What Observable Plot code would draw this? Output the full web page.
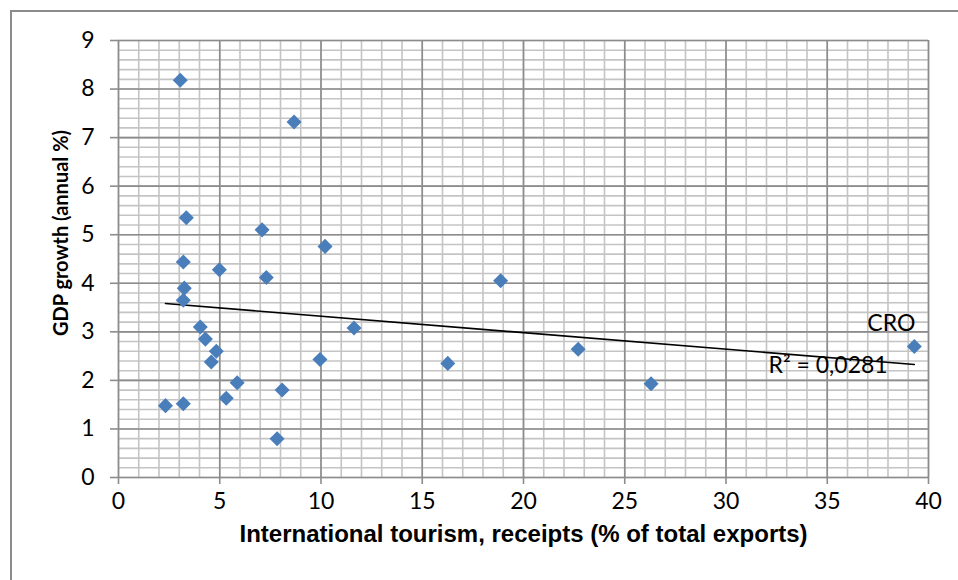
<!DOCTYPE html>
<html>
<head>
<meta charset="utf-8">
<script src="https://cdn.jsdelivr.net/npm/d3@7"></script>
<script src="https://cdn.jsdelivr.net/npm/@observablehq/plot@0.6"></script>
<style>
  html, body { margin: 0; padding: 0; background: #fff; }
  #wrap { position: relative; width: 958px; height: 580px; overflow: hidden; }
  #border { position: absolute; left: 10px; top: 10px; width: 980px; height: 600px;
            border-left: 2px solid #8c8c8c; border-top: 2px solid #8c8c8c; pointer-events: none; }
</style>
</head>
<body>
<div id="wrap"><div id="chart"></div><div id="border"></div></div>
<script>
// Data
const tourismReceipts = [3.05, 8.67, 3.35, 7.09, 10.2, 3.2, 4.98, 7.3, 18.87, 3.25, 3.2, 4.04, 11.63, 4.29, 4.83, 22.7, 39.3, 4.58, 9.95, 16.26, 5.86, 26.3, 8.08, 5.32, 2.32, 3.2, 7.83];
const gdpGrowth      = [8.18, 7.32, 5.35, 5.1, 4.76, 4.44, 4.28, 4.12, 4.05, 3.9, 3.65, 3.1, 3.08, 2.85, 2.6, 2.64, 2.7, 2.38, 2.43, 2.35, 1.95, 1.93, 1.8, 1.63, 1.48, 1.52, 0.8];
const pointLabels    = ["", "", "", "", "", "", "", "", "", "", "", "", "", "", "", "", "CRO", "", "", "", "", "", "", "", "", "", ""];
const xTicks = [0, 5, 10, 15, 20, 25, 30, 35, 40];
const yTicks = [0, 1, 2, 3, 4, 5, 6, 7, 8, 9];
const xTitle = "International tourism, receipts (% of total exports)";
const yTitle = "GDP growth (annual %)";
const r2Label = ["R² = 0,0281"];
const r2Pos = [{x: 32.1, y: 2.31}];

const data = tourismReceipts.map((x, i) => ({x, y: gdpGrowth[i], label: pointLabels[i]}));
const labelled = data.filter(d => d.label);
const xMinor = d3.range(0, 41, 1);
const yMinor = d3.range(0, 46, 1).map(i => +(i * 0.2).toFixed(1));

const excelDiamond = {
  draw(ctx, size) {
    const h = Math.sqrt(size / 2);
    ctx.moveTo(0, -h); ctx.lineTo(h, 0); ctx.lineTo(0, h); ctx.lineTo(-h, 0); ctx.closePath();
  }
};

const plot = Plot.plot({
  width: 958, height: 580,
  marginLeft: 118, marginRight: 30, marginTop: 40, marginBottom: 103,
  style: {fontFamily: "Lato, sans-serif", fontSize: "23px", background: "#fff", color: "#000", overflow: "visible"},
  x: {domain: [0, 40]},
  y: {domain: [0, 9]},
  marks: [
    Plot.gridX(xMinor, {stroke: "#c4c4c4", strokeOpacity: 1, strokeWidth: 1.6}),
    Plot.gridY(yMinor, {stroke: "#c4c4c4", strokeOpacity: 1, strokeWidth: 1.6}),
    Plot.gridX(xTicks, {stroke: "#8c8c8c", strokeOpacity: 1, strokeWidth: 1.6}),
    Plot.gridY(yTicks, {stroke: "#8c8c8c", strokeOpacity: 1, strokeWidth: 1.6}),
    Plot.axisX({ticks: xTicks, tickSize: 7, tickPadding: 8, stroke: "#8c8c8c", strokeWidth: 1.6, fill: "#000", label: null, tickFormat: d => String(d)}),
    Plot.axisY({ticks: yTicks, tickSize: 8, tickPadding: 16, stroke: "#8c8c8c", strokeWidth: 1.6, fill: "#000", label: null, tickFormat: d => String(d)}),
    Plot.linearRegressionY(data, {x: "x", y: "y", ci: 0, stroke: "#000", strokeWidth: 1.6}),
    Plot.dot(data, {x: "x", y: "y", symbol: excelDiamond, r: 6, fill: "#4a7ebb", stroke: null}),
    Plot.text(labelled, {x: "x", y: "y", text: "label", dx: -23, dy: -23, fill: "#000", fontSize: 23}),
    Plot.text(r2Label, {x: r2Pos.map(d => d.x), y: r2Pos.map(d => d.y), text: d => d, textAnchor: "start", fill: "#000", fontSize: 23}),
    Plot.text([xTitle], {frameAnchor: "bottom", text: d => d, dy: 64, fontFamily: "Liberation Sans, Arial, sans-serif", fontWeight: "bold", fontSize: 24, fill: "#000"}),
    Plot.text([yTitle], {frameAnchor: "left", textAnchor: "middle", text: d => d, rotate: -90, dx: -57, dy: -26, fontFamily: "Lato, sans-serif", fontWeight: "bold", fontSize: 20, fill: "#000"})
  ]
});
document.getElementById("chart").appendChild(plot);
</script>
</body>
</html>
